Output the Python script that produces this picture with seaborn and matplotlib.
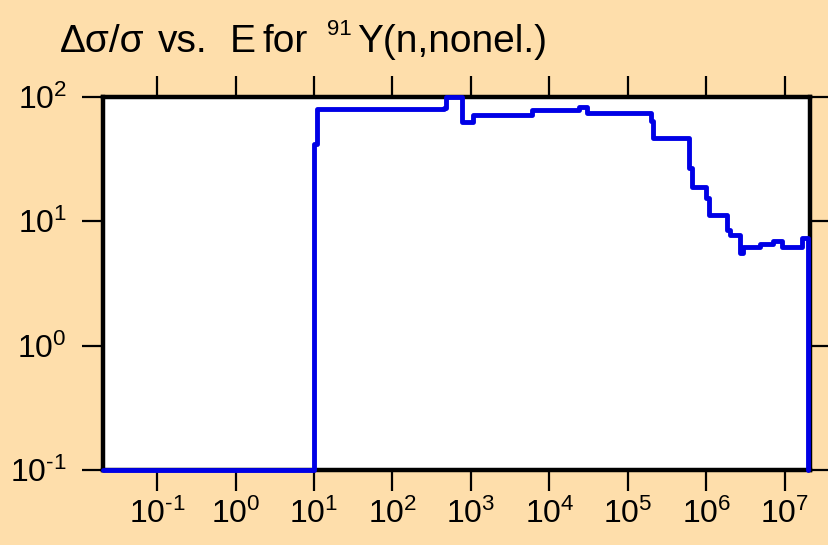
import matplotlib
matplotlib.use("Agg")
import matplotlib.pyplot as plt
import seaborn as sns
import pandas as pd
from matplotlib.ticker import NullLocator

# Step-function data (steps-post): energy edges (eV) and relative uncertainty (%)
energy = [2.04e-2, 10, 11, 450, 480, 760, 1050, 6000, 24000, 30000,
          2.0e5, 2.1e5, 6.0e5, 6.6e5, 1.0e6, 1.07e6, 1.86e6, 2.0e6,
          2.7e6, 2.95e6, 4.9e6, 7.1e6, 9.3e6, 1.66e7, 2.0e7]
rel_unc = [0.1, 42, 80, 82, 100, 63, 72, 78.5, 83, 74,
           64, 47, 27, 19, 15.5, 11.2, 8.5, 7.8,
           5.6, 6.2, 6.6, 6.9, 6.2, 7.4, 0.1]

x_tick_vals = [1e-1, 1e0, 1e1, 1e2, 1e3, 1e4, 1e5, 1e6, 1e7]
x_tick_labels = [r"$\mathregular{10^{\text{-}1}}$", r"$\mathregular{10^{0}}$", r"$\mathregular{10^{1}}$",
                 r"$\mathregular{10^{2}}$", r"$\mathregular{10^{3}}$", r"$\mathregular{10^{4}}$",
                 r"$\mathregular{10^{5}}$", r"$\mathregular{10^{6}}$", r"$\mathregular{10^{7}}$"]
y_tick_vals = [1e-1, 1e0, 1e1, 1e2]
y_tick_labels = [r"$\mathregular{10^{\text{-}1}}$", r"$\mathregular{10^{0}}$",
                 r"$\mathregular{10^{1}}$", r"$\mathregular{10^{2}}$"]

title_parts = ["Δσ/σ", "vs.", "E", "for", "Y(n,nonel.)"]
title_sup = "91"

df = pd.DataFrame({"E": energy, "unc": rel_unc})

sns.set_theme(style="white")
plt.rcParams["font.family"] = ["Liberation Sans", "DejaVu Sans"]
plt.rcParams["mathtext.fontset"] = "custom"
plt.rcParams["mathtext.rm"] = "Liberation Sans"

W, H = 829, 545
bg = "#FEDEAB"
fig = plt.figure(figsize=(W / 100, H / 100), dpi=100, facecolor=bg)
ax = fig.add_axes([103 / W, 1 - 470 / H, (810 - 103) / W, (470 - 97) / H])
ax.set_facecolor("white")

sns.lineplot(data=df, x="E", y="unc", ax=ax, drawstyle="steps-post",
             color="#0000E6", linewidth=3.5, estimator=None, sort=False)
for ln in ax.get_lines():
    ln.set_clip_on(False)
    ln.set_zorder(3)

ax.set_xscale("log")
ax.set_yscale("log")
ax.set_xlim(2.04e-2, 2.1e7)
ax.set_ylim(0.1, 100)
ax.set_xlabel("")
ax.set_ylabel("")

ax.set_xticks(x_tick_vals)
ax.set_xticklabels(x_tick_labels)
ax.xaxis.set_minor_locator(NullLocator())
ax.set_yticks(y_tick_vals)
ax.set_yticklabels(y_tick_labels)
ax.yaxis.set_minor_locator(NullLocator())

ax.tick_params(axis="both", which="major", direction="out", length=15, width=1.6,
               color="black", labelsize=23, labelcolor="black",
               top=True, right=True, bottom=True, left=True,
               labeltop=False, labelright=False)
ax.tick_params(axis="x", pad=6)
ax.tick_params(axis="y", pad=11)

for s in ax.spines.values():
    s.set_visible(True)
    s.set_color("black")
    s.set_linewidth(3.2)
    s.set_zorder(2.5)

# Title drawn word by word to follow the reference spacing
base_y = 1 - 52 / H
title_x = [60, 158, 230, 263, 357]
for txt, px in zip(title_parts, title_x):
    fig.text(px / W, base_y, txt, fontsize=28, ha="left", va="baseline", color="black")
fig.text(327 / W, 1 - 35 / H, title_sup, fontsize=16, ha="left", va="baseline", color="black")

fig.savefig("out.png", dpi=100, facecolor=bg)
